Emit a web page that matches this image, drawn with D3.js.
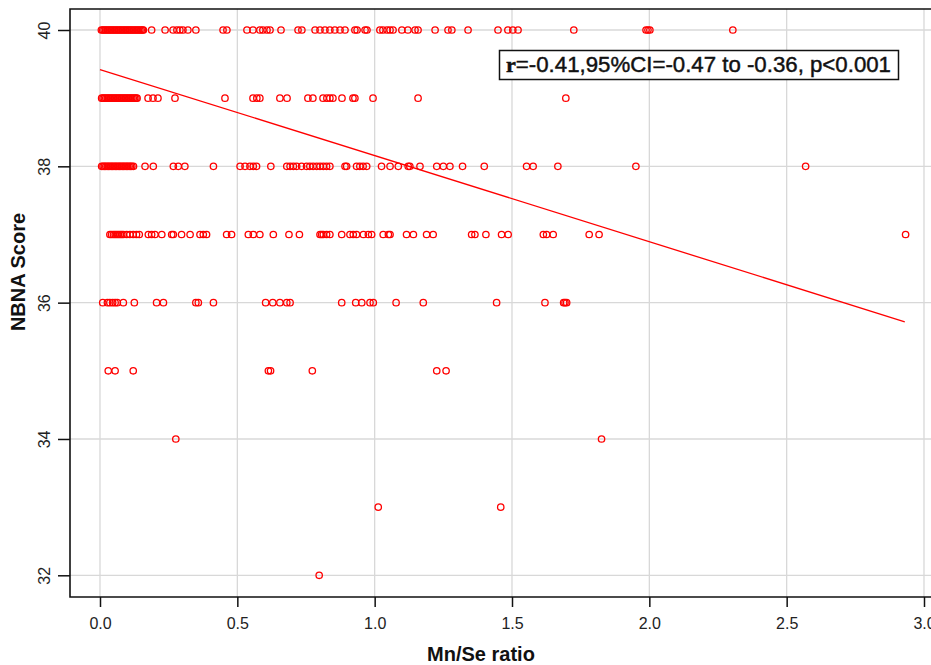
<!DOCTYPE html>
<html>
<head>
<meta charset="utf-8">
<script src="https://cdn.jsdelivr.net/npm/d3@7"></script>
<style>
  body { margin: 0; background: #fff; }
  #chart svg { display: block; }
</style>
</head>
<body>
<div id="chart"></div>
<script>
// NBNA score rows and the Mn/Se ratios for each row
const scores = [40, 39, 38, 37, 36, 35, 34, 33, 32];

const ratio40 = [0.005, 0.010, 0.015, 0.020, 0.025, 0.030, 0.035, 0.040, 0.045, 0.050, 0.055, 0.060,
  0.065, 0.070, 0.075, 0.080, 0.085, 0.090, 0.095, 0.100, 0.105, 0.110, 0.115, 0.120, 0.125, 0.130,
  0.135, 0.140, 0.145, 0.150, 0.155, 0.158, 0.188, 0.237, 0.266, 0.280, 0.291, 0.302, 0.320, 0.349,
  0.448, 0.462, 0.535, 0.557, 0.582, 0.593, 0.608, 0.619, 0.659, 0.721, 0.735, 0.783, 0.801, 0.819,
  0.837, 0.855, 0.874, 0.892, 0.928, 0.936, 0.965, 0.972, 1.019, 1.030, 1.045, 1.056, 1.067, 1.099,
  1.121, 1.147, 1.158, 1.220, 1.267, 1.281, 1.340, 1.449, 1.485, 1.503, 1.522, 1.725, 1.988, 1.995,
  2.002, 2.304];
const ratio39 = [0.006, 0.011, 0.016, 0.021, 0.026, 0.031, 0.036, 0.041, 0.046, 0.051, 0.056, 0.061,
  0.066, 0.071, 0.076, 0.081, 0.086, 0.091, 0.096, 0.101, 0.106, 0.111, 0.116, 0.121, 0.126, 0.131,
  0.135, 0.175, 0.193, 0.211, 0.273, 0.455, 0.557, 0.571, 0.582, 0.655, 0.681, 0.757, 0.775, 0.812,
  0.826, 0.837, 0.848, 0.881, 0.921, 0.928, 0.994, 1.158, 1.696];
const ratio38 = [0.006, 0.011, 0.016, 0.021, 0.026, 0.031, 0.036, 0.041, 0.046, 0.051, 0.056, 0.061,
  0.066, 0.071, 0.076, 0.081, 0.086, 0.091, 0.096, 0.101, 0.106, 0.111, 0.116, 0.122, 0.164, 0.194,
  0.267, 0.285, 0.309, 0.413, 0.510, 0.528, 0.546, 0.558, 0.570, 0.622, 0.680, 0.692, 0.704, 0.716,
  0.734, 0.752, 0.764, 0.776, 0.789, 0.801, 0.813, 0.825, 0.837, 0.892, 0.898, 0.934, 0.946, 0.958,
  0.971, 1.025, 1.056, 1.086, 1.122, 1.128, 1.165, 1.226, 1.250, 1.274, 1.320, 1.399, 1.553, 1.577,
  1.667, 1.951, 2.569];
const ratio37 = [0.036, 0.042, 0.049, 0.055, 0.061, 0.067, 0.073, 0.079, 0.085, 0.097, 0.109, 0.121,
  0.133, 0.143, 0.176, 0.188, 0.200, 0.225, 0.261, 0.267, 0.297, 0.328, 0.364, 0.376, 0.388, 0.461,
  0.479, 0.540, 0.558, 0.582, 0.631, 0.688, 0.726, 0.801, 0.807, 0.813, 0.825, 0.837, 0.880, 0.910,
  0.922, 0.934, 0.959, 0.977, 0.989, 1.031, 1.050, 1.056, 1.116, 1.141, 1.189, 1.213, 1.353, 1.365,
  1.405, 1.462, 1.486, 1.614, 1.626, 1.650, 1.781, 1.817, 2.933];
const ratio36 = [0.010, 0.027, 0.036, 0.046, 0.055, 0.063, 0.085, 0.125, 0.206, 0.231, 0.349, 0.358,
  0.413, 0.603, 0.629, 0.655, 0.680, 0.692, 0.880, 0.931, 0.953, 0.983, 0.995, 1.078, 1.177, 1.444,
  1.620, 1.688, 1.693, 1.699];
const ratio35 = [0.030, 0.055, 0.121, 0.613, 0.621, 0.773, 1.226, 1.260];
const ratio34 = [0.276, 1.826];
const ratio33 = [1.013, 1.459];
const ratio32 = [0.798];

const ratios = [ratio40, ratio39, ratio38, ratio37, ratio36, ratio35, ratio34, ratio33, ratio32];

// fitted line
const fitIntercept = 39.42;
const fitSlope = -1.263;
const fitRange = [0, 2.93];

const xTicks = [0, 0.5, 1, 1.5, 2, 2.5, 3];
const yTicks = [32, 34, 36, 38, 40];
const statText = "=-0.41,95%CI=-0.47 to -0.36, p<0.001";

const width = 931, height = 665;
const box = { left: 70, top: 9, right: 960, bottom: 597 };

const svg = d3.select("#chart").append("svg")
  .attr("width", width)
  .attr("height", height)
  .style("font-family", "'Liberation Sans', Arial, sans-serif");

const x = d3.scaleLinear().domain([0, 3]).range([100, 924]);
const y = d3.scaleLinear().domain([32, 40]).range([575.3, 30]);

// grid
svg.append("g").selectAll("line.vg")
  .data(xTicks).enter().append("line")
  .attr("x1", d => x(d)).attr("x2", d => x(d))
  .attr("y1", box.top).attr("y2", box.bottom)
  .attr("stroke", "#d8d8d8").attr("stroke-width", 1.3);
svg.append("g").selectAll("line.hg")
  .data(yTicks).enter().append("line")
  .attr("x1", box.left).attr("x2", box.right)
  .attr("y1", d => y(d)).attr("y2", d => y(d))
  .attr("stroke", "#d8d8d8").attr("stroke-width", 1.3);

// axes
const xAxis = svg.append("g")
  .attr("transform", `translate(0,${box.bottom})`)
  .call(d3.axisBottom(x).tickValues(xTicks).tickFormat(d3.format(".1f")).tickSize(10).tickPadding(10));
const yAxis = svg.append("g")
  .attr("transform", `translate(${box.left},0)`)
  .call(d3.axisLeft(y).tickValues(yTicks).tickFormat(d3.format("d")).tickSize(12));

[xAxis, yAxis].forEach(a => {
  a.select(".domain").remove();
  a.selectAll(".tick line").attr("stroke", "#111").attr("stroke-width", 1.5);
  a.selectAll(".tick text").attr("fill", "#222").attr("font-size", 16)
    .style("font-family", "'Liberation Sans', Arial, sans-serif");
});
xAxis.selectAll(".tick text").attr("dy", "0.75em");
// y labels are written sideways
yAxis.selectAll(".tick text")
  .attr("x", null).attr("dy", null)
  .attr("text-anchor", "middle")
  .attr("transform", "translate(-20,0) rotate(-90)");

// plot frame: left, bottom and top (right edge falls outside the picture)
svg.append("path")
  .attr("d", `M${box.right},${box.top}H${box.left}V${box.bottom}H${box.right}`)
  .attr("fill", "none").attr("stroke", "#111").attr("stroke-width", 1.6);

// points
const pts = scores.flatMap((s, i) => ratios[i].map(r => ({ r, s })));
svg.append("g").selectAll("circle")
  .data(pts).enter().append("circle")
  .attr("cx", d => x(d.r))
  .attr("cy", d => y(d.s))
  .attr("r", 3.2)
  .attr("fill", "none")
  .attr("stroke", "#ff0000")
  .attr("stroke-width", 1.3);

// regression line
svg.append("line")
  .attr("x1", x(fitRange[0])).attr("y1", y(fitIntercept + fitSlope * fitRange[0]))
  .attr("x2", x(fitRange[1])).attr("y2", y(fitIntercept + fitSlope * fitRange[1]))
  .attr("stroke", "#ff0000").attr("stroke-width", 1.3);

// stats label
svg.append("rect")
  .attr("x", 499.5).attr("y", 50.5).attr("width", 399).attr("height", 29)
  .attr("fill", "#fff").attr("stroke", "#111").attr("stroke-width", 1.5);
const st = svg.append("text")
  .attr("x", 506).attr("y", 72)
  .attr("font-size", 22).attr("fill", "#111")
  .attr("stroke", "#111").attr("stroke-width", 0.45)
  .attr("textLength", 385).attr("lengthAdjust", "spacingAndGlyphs");
st.append("tspan").attr("font-weight", "bold").attr("font-family", "'Liberation Serif', serif").text("r");
st.append("tspan").text(statText);

// axis titles
svg.append("text")
  .attr("x", 481).attr("y", 661)
  .attr("text-anchor", "middle")
  .attr("font-size", 20).attr("font-weight", "bold").attr("fill", "#111")
  .text("Mn/Se ratio");
svg.append("text")
  .attr("transform", "translate(25,272) rotate(-90)")
  .attr("text-anchor", "middle")
  .attr("font-size", 20).attr("font-weight", "bold").attr("fill", "#111")
  .text("NBNA Score");
</script>
</body>
</html>
